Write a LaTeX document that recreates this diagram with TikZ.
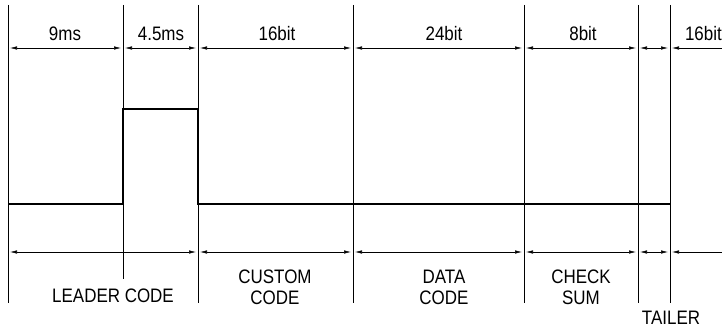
\documentclass[tikz,border=0pt]{standalone}
\usepackage{fontspec}
\newfontfamily\labelfont[FakeStretch=0.87]{Liberation Sans}
\usetikzlibrary{arrows.meta}
\begin{document}
\begin{tikzpicture}[x=1pt,y=-1pt,
  span/.style={{Latex[length=7pt,width=3.5pt]}-{Latex[length=7pt,width=3.5pt]},line width=0.6pt},
  openspan/.style={{Latex[length=7pt,width=3.5pt]}-,line width=0.6pt},
  tick/.style={line width=0.8pt},
  signal/.style={line width=1.6pt},
  lbl/.style={font=\labelfont\fontsize{19.5}{21}\selectfont,inner sep=0pt,align=center}]
\useasboundingbox (0,0) rectangle (722,331);
% boundaries
\draw[tick] (8,5) -- (8,303);
\draw[tick] (123,5) -- (123,279);
\draw[tick] (198,5) -- (198,303);
\draw[tick] (353,5) -- (353,303);
\draw[tick] (524,5) -- (524,303);
\draw[tick] (638,5) -- (638,303);
\draw[tick] (670,5) -- (670,303);
% waveform
\draw[signal] (8,204) -- (123,204) -- (123,109) -- (198,109) -- (198,204) -- (670,204);
% time spans
\draw[span] (10,48) -- (121,48);
\draw[span] (125,48) -- (196,48);
\draw[span] (200,48) -- (351,48);
\draw[span] (355,48) -- (522,48);
\draw[span] (526,48) -- (636,48);
\draw[span] (640,48) -- (668,48);
\draw[openspan] (672,48) -- (722,48);
\node[lbl] (t9ms) at (65,34) {9ms};
\node[lbl] (t45ms) at (161,34) {4.5ms};
\node[lbl] (tcustom) at (277,34) {16bit};
\node[lbl] (tdata) at (444,34) {24bit};
\node[lbl] (tcheck) at (583,34) {8bit};
\node[lbl,anchor=east] (tnext) at (722,34) {16bit};
% fields
\draw[span] (10,252) -- (196,252);
\draw[span] (200,252) -- (351,252);
\draw[span] (355,252) -- (522,252);
\draw[span] (526,252) -- (636,252);
\draw[span] (640,252) -- (668,252);
\draw[openspan] (672,252) -- (722,252);
\node[lbl] (leader) at (113,296) {LEADER CODE};
\node[lbl] (custom) at (275,287) {CUSTOM\\CODE};
\node[lbl] (data) at (444,287) {DATA\\CODE};
\node[lbl] (check) at (581,287) {CHECK\\SUM};
\node[lbl] (tailer) at (671,318) {TAILER};
\end{tikzpicture}
\end{document}
